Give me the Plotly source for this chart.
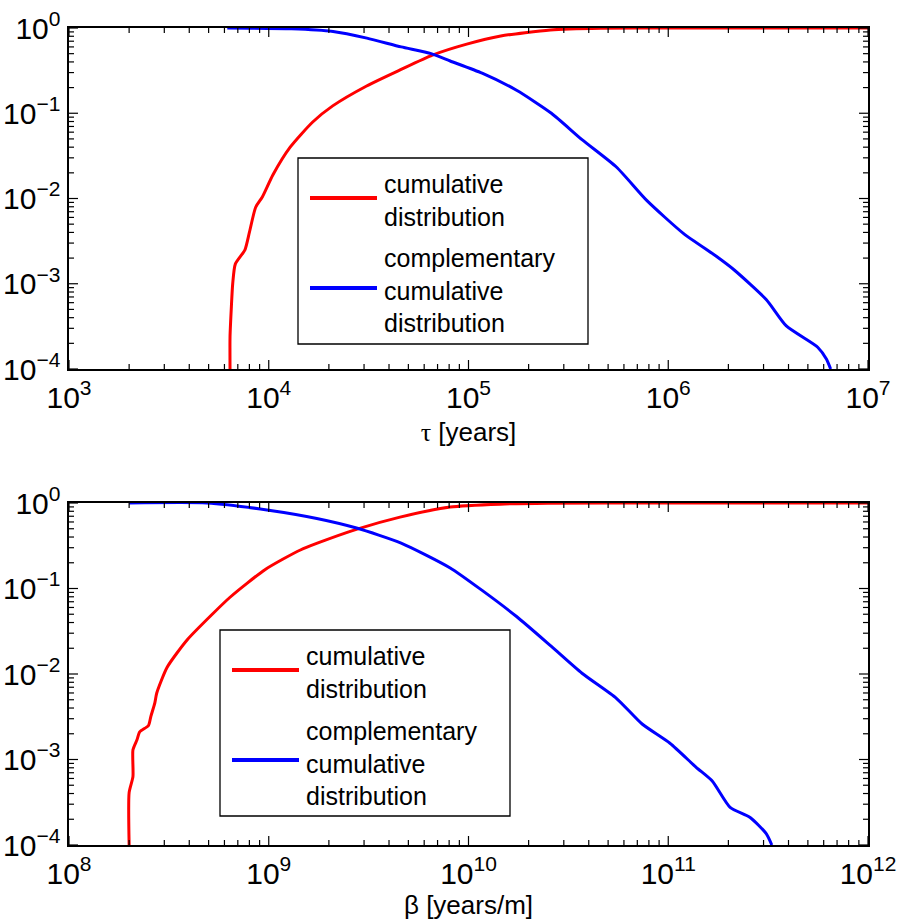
import math
import plotly.graph_objects as go

# ---------------- data ----------------
tau_cdf_x = [6.4e3, 6.4e3, 6.5e3, 6.6e3, 6.8e3, 7.6e3, 8.0e3, 8.6e3, 9.3e3,
             1.05e4, 1.28e4, 1.66e4, 2.09e4, 3.09e4, 4.57e4, 6.6e4, 9.8e4,
             1.45e5, 2.57e5, 4.6e5, 1.0e6, 1.0e7]
tau_cdf_y = [1.0e-4, 2.4e-4, 5.4e-4, 1.0e-3, 1.7e-3, 2.5e-3, 4.0e-3, 7.9e-3, 1.05e-2,
             1.9e-2, 4.0e-2, 7.9e-2, 0.122, 0.209, 0.324, 0.48, 0.646,
             0.805, 0.95, 0.995, 1.0, 1.0]

tau_ccdf_x = [6.2e3, 1.3e4, 2.1e4, 3.1e4, 4.6e4, 6.5e4, 8.1e4, 1.17e5, 1.74e5, 2.6e5,
              3.7e5, 5.5e5, 7.8e5, 1.19e6, 1.74e6, 2.14e6, 3.1e6, 3.9e6, 5.6e6,
              6.2e6, 6.5e6]
tau_ccdf_y = [1.0, 0.98, 0.91, 0.76, 0.60, 0.50, 0.41, 0.295, 0.186, 0.10,
              0.049, 0.0234, 0.0095, 0.0039, 0.0021, 0.00145, 6.5e-4, 3.2e-4, 1.8e-4,
              1.3e-4, 1.0e-4]

beta_cdf_x = [2.0e8, 2.0e8, 2.09e8, 2.09e8, 2.19e8, 2.26e8, 2.5e8, 2.57e8, 2.69e8, 2.75e8,
              3.1e8, 3.9e8, 5.26e8, 6.4e8, 7.78e8, 9.57e8, 1.18e9, 1.44e9, 1.75e9,
              2.77e9, 4.54e9, 8.1e9, 1.44e10, 2.5e10, 1.0e11, 1.0e12]
beta_cdf_y = [1.0e-4, 4.1e-4, 6.3e-4, 1.3e-3, 1.7e-3, 2.1e-3, 2.5e-3, 3.2e-3, 4.6e-3, 6.0e-3,
              1.2e-2, 2.5e-2, 5.1e-2, 7.9e-2, 0.115, 0.166, 0.221, 0.282, 0.339,
              0.495, 0.684, 0.897, 0.97, 0.995, 1.0, 1.0]

beta_ccdf_x = [2.0e8, 4.9e8, 9.8e8, 1.74e9, 2.75e9, 4.6e9, 8.1e9, 1.17e10, 1.74e10, 2.6e10,
               3.7e10, 5.5e10, 7.4e10, 1.02e11, 1.38e11, 1.66e11, 2.04e11, 2.57e11,
               3.1e11, 3.3e11]
beta_ccdf_y = [1.0, 1.0, 0.83, 0.66, 0.51, 0.34, 0.174, 0.095, 0.047, 0.021,
               0.0102, 5.2e-3, 2.6e-3, 1.55e-3, 8.1e-4, 5.6e-4, 2.75e-4, 2.1e-4,
               1.35e-4, 1.0e-4]

tau_range_exp = [3, 7]
beta_range_exp = [8, 12]
p_range_exp = [-4, 0]
# default plotly label -> label shown in the reference
p_label_alias = {"1": "10<sup>0</sup>"}

name_cdf = "cumulative<br>distribution"
name_ccdf = "complementary<br>cumulative<br>distribution"

RED = "#ff0000"
BLUE = "#0000ff"
FONT = "Liberation Sans, Arial, Helvetica, sans-serif"

# ---------------- figure ----------------
W, H = 899, 924
ML, MR, MT, MB = 69, 31, 28, 79
PW, PH = W - ML - MR, H - MT - MB


def px2x(px):
    return (px - ML) / PW


def px2y(py):
    return (H - MB - py) / PH


fig = go.Figure()
line_kw = dict(width=3, shape="spline", smoothing=0.6)
fig.add_trace(go.Scatter(x=tau_cdf_x, y=tau_cdf_y, mode="lines", name=name_cdf,
                         line=dict(color=RED, **line_kw), xaxis="x", yaxis="y"))
fig.add_trace(go.Scatter(x=tau_ccdf_x, y=tau_ccdf_y, mode="lines", name=name_ccdf,
                         line=dict(color=BLUE, **line_kw), xaxis="x", yaxis="y"))
fig.add_trace(go.Scatter(x=beta_cdf_x, y=beta_cdf_y, mode="lines", name=name_cdf,
                         line=dict(color=RED, **line_kw), xaxis="x2", yaxis="y2"))
fig.add_trace(go.Scatter(x=beta_ccdf_x, y=beta_ccdf_y, mode="lines", name=name_ccdf,
                         line=dict(color=BLUE, **line_kw), xaxis="x2", yaxis="y2"))

AX = "#000000"


def axis_common(rng):
    return dict(
        type="log", range=rng, showgrid=False, zeroline=False, automargin=False,
        showline=True, linecolor=AX, linewidth=1.5, mirror=True,
        ticks="", tickmode="linear", tick0=0, dtick=1,
        exponentformat="power", showexponent="all",
        tickfont=dict(family=FONT, size=24, color="black"),
    )


top_px = (28, 369)
bot_px = (503, 845)
top_dom = [px2y(top_px[1]), px2y(top_px[0])]
bot_dom = [px2y(bot_px[1]), px2y(bot_px[0])]

xa1 = axis_common(tau_range_exp)
xa1.update(domain=[0, 1], anchor="y", ticklabelstandoff=2,
           title=dict(text="<span style='font-family:Liberation Serif, serif'>\u03c4</span> [years]",
                      font=dict(family=FONT, size=26, color="black"), standoff=10))
ya1 = axis_common(p_range_exp)
ya1.update(domain=top_dom, anchor="x", ticklabelstandoff=2, labelalias=p_label_alias)

xa2 = axis_common(beta_range_exp)
xa2.update(domain=[0, 1], anchor="y2", ticklabelstandoff=2,
           title=dict(text="\u03b2 [years/m]",
                      font=dict(family=FONT, size=26, color="black"), standoff=4))
ya2 = axis_common(p_range_exp)
ya2.update(domain=bot_dom, anchor="x2", ticklabelstandoff=2, labelalias=p_label_alias)

shapes = []
annotations = []

# ---- tick marks (major every decade, minor at 2..9) on all four sides ----
# drawn in paper coordinates derived from each axis range (log10 exponents)
MAJ, MIN = 9, 5
TICK_LINE = dict(color=AX, width=1.2)


def tick_fracs(rng):
    out = []
    span = rng[1] - rng[0]
    for e in range(rng[0], rng[1] + 1):
        out.append(((e - rng[0]) / span, MAJ))
        if e < rng[1]:
            for m in range(2, 10):
                out.append(((e + math.log10(m) - rng[0]) / span, MIN))
    return out


def add_ticks(xrng, yrng, pix):
    top, bot = pix
    for f, ln in tick_fracs(xrng):
        xp = ML + f * PW
        for edge, sgn in ((bot, -1), (top, 1)):
            shapes.append(dict(type="line", xref="paper", yref="paper",
                               x0=px2x(xp), x1=px2x(xp),
                               y0=px2y(edge), y1=px2y(edge + sgn * ln),
                               line=TICK_LINE, layer="above"))
    for f, ln in tick_fracs(yrng):
        yp = bot - f * (bot - top)
        for edge, sgn in ((ML, 1), (ML + PW, -1)):
            shapes.append(dict(type="line", xref="paper", yref="paper",
                               x0=px2x(edge), x1=px2x(edge + sgn * ln),
                               y0=px2y(yp), y1=px2y(yp),
                               line=TICK_LINE, layer="above"))


add_ticks(tau_range_exp, p_range_exp, top_px)
add_ticks(beta_range_exp, p_range_exp, bot_px)


def add_legend(left, top):
    shapes.append(dict(type="rect", xref="paper", yref="paper",
                       x0=px2x(left), x1=px2x(left + 290),
                       y0=px2y(top + 186), y1=px2y(top),
                       line=dict(color="#000000", width=1.3), fillcolor="white", layer="above"))
    entries = [(name_cdf, RED, top + 40, top + 42), (name_ccdf, BLUE, top + 130, top + 133)]
    for text, col, yy, ty in entries:
        shapes.append(dict(type="line", xref="paper", yref="paper",
                           x0=px2x(left + 12), x1=px2x(left + 79),
                           y0=px2y(yy), y1=px2y(yy),
                           line=dict(color=col, width=4), layer="above"))
        annotations.append(dict(xref="paper", yref="paper", x=px2x(left + 84), y=px2y(ty),
                                xanchor="left", yanchor="middle", align="left",
                                text=text, showarrow=False,
                                font=dict(family=FONT, size=25, color="black")))


add_legend(298, 158)
add_legend(220, 630)

fig.update_layout(
    width=W, height=H,
    margin=dict(l=ML, r=MR, t=MT, b=MB, pad=0, autoexpand=False),
    paper_bgcolor="white", plot_bgcolor="white",
    xaxis=xa1, yaxis=ya1, xaxis2=xa2, yaxis2=ya2,
    shapes=shapes, annotations=annotations,
    showlegend=False,
    font=dict(family=FONT, color="black"),
)

fig.write_html("out.html")
